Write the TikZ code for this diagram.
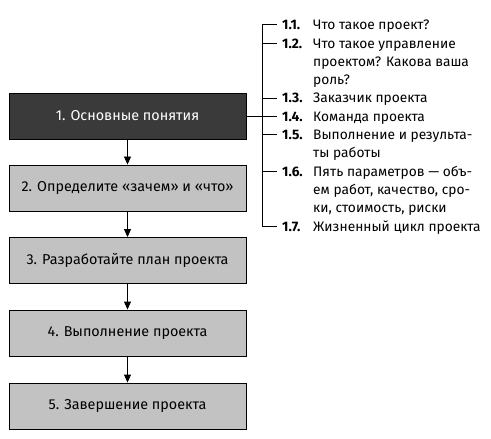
\documentclass[tikz,border=0pt]{standalone}
\usepackage{fontspec}
\setmainfont{Fira Sans}
\usetikzlibrary{arrows.meta}
\definecolor{darkbox}{HTML}{3A3A3A}
\definecolor{greybox}{HTML}{C2C2C2}
\tikzset{
  stepbox/.style={draw=black, line width=0.9bp, minimum width=237bp, minimum height=46bp, inner sep=0pt, font=\fontsize{14.4}{17}\selectfont},
  mainbox/.style={stepbox, fill=darkbox, text=white},
  subbox/.style={stepbox, fill=greybox, text=black},
  flow/.style={line width=0.9bp, -{Triangle[length=8bp,width=7bp]}},
  tree/.style={line width=0.9bp},
  itemnum/.style={anchor=base west, inner sep=0pt, font=\fontsize{13.8}{18.3}\selectfont\bfseries},
  itemtext/.style={anchor=base west, inner sep=0pt, font=\fontsize{13.8}{18.3}\selectfont},
}
\newcommand{\itm}[1]{\parbox[t]{180bp}{\raggedright\fontsize{13.8}{18.3}\selectfont #1}}
\begin{document}
\begin{tikzpicture}[x=1bp,y=-1bp]
\useasboundingbox (0,0) rectangle (491,439);
\node[mainbox] (b1) at (127.5,116) {1. Основные понятия};
\node[subbox] (b2) at (127.5,188) {2. Определите «зачем» и «что»};
\node[subbox] (b3) at (127.5,260.5) {3. Разработайте план проекта};
\node[subbox] (b4) at (127.5,333) {4. Выполнение проекта};
\node[subbox] (b5) at (127.5,406) {5. Завершение проекта};
\draw[flow] (b1) -- (b2);
\draw[flow] (b2) -- (b3);
\draw[flow] (b3) -- (b4);
\draw[flow] (b4) -- (b5);
% items
\node[itemnum] (n1) at (282,29.8) {1.1.};
\node[itemnum] (n2) at (282,48.1) {1.2.};
\node[itemnum] (n3) at (282,103.0) {1.3.};
\node[itemnum] (n4) at (282,121.3) {1.4.};
\node[itemnum] (n5) at (282,139.6) {1.5.};
\node[itemnum] (n6) at (282,176.2) {1.6.};
\node[itemnum] (n7) at (282,231.1) {1.7.};
\node[itemtext] (t1) at (313,29.8) {\itm{Что такое проект?}};
\node[itemtext] (t2) at (313,48.1) {\itm{Что такое управление\\проектом? Какова ваша\\роль?}};
\node[itemtext] (t3) at (313,103.0) {\itm{Заказчик проекта}};
\node[itemtext] (t4) at (313,121.3) {\itm{Команда проекта}};
\node[itemtext] (t5) at (313,139.6) {\itm{Выполнение и результа-\\ты работы}};
\node[itemtext] (t6) at (313,176.2) {\itm{Пять параметров — объ-\\ем работ, качество, сро-\\ки, стоимость, риски}};
\node[itemtext] (t7) at (313,231.1) {\itm{Жизненный цикл проекта}};
\coordinate (top) at (262,24.8);
\coordinate (bot) at (262,226.1);
\draw[tree] (top) -- (bot);
\foreach \i in {1,...,7}{
  \draw[tree] (262,0 |- n\i.base) ++(0,-5) coordinate (a\i) -- ++(15,0);
}
\draw[tree] (b1.east) -- (b1.east -| top);
\end{tikzpicture}
\end{document}
